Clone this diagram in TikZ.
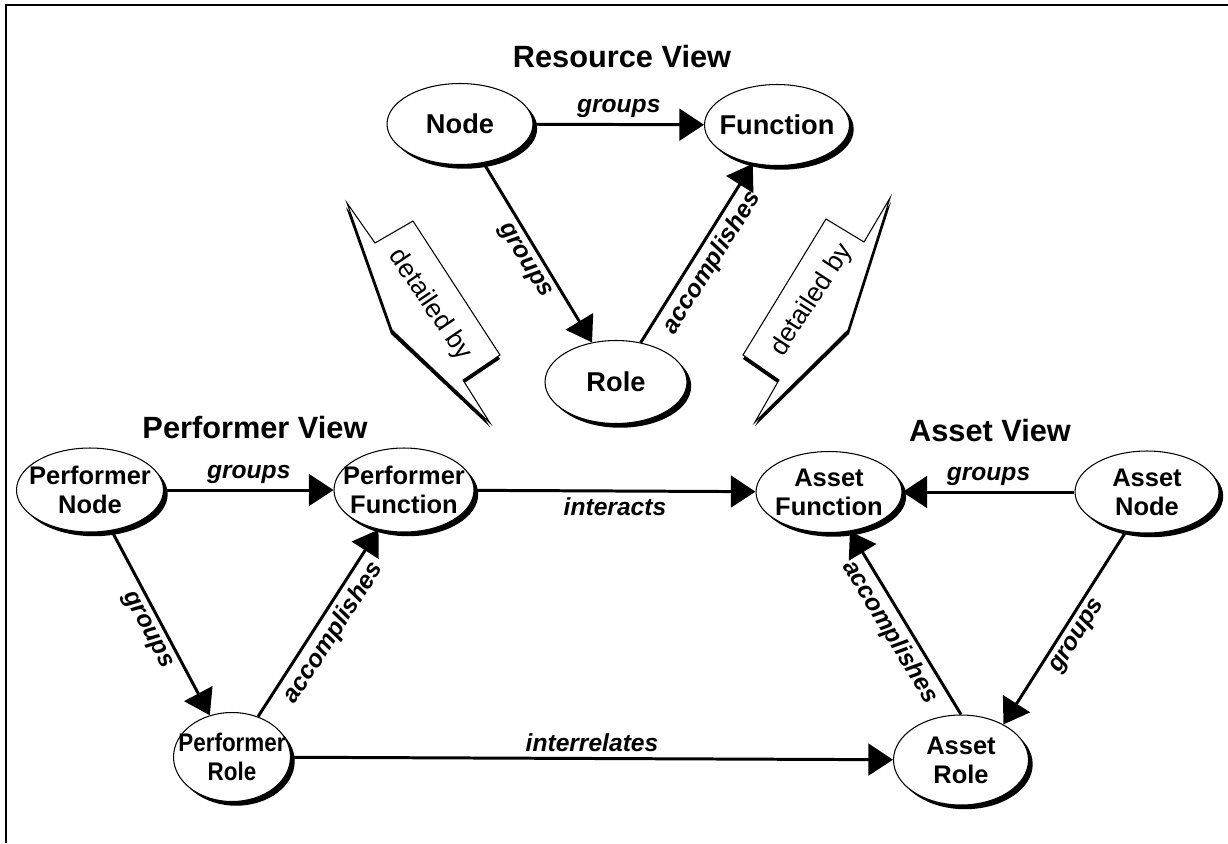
\documentclass[tikz,border=0pt]{standalone}
\usepackage{fontspec}
\setmainfont{Liberation Sans}
\usetikzlibrary{arrows.meta,shapes.geometric,shadows}
\begin{document}
\begin{tikzpicture}[x=0.02cm,y=-0.02cm,
  ent/.style={ellipse, draw, line width=0.6pt, fill=white, inner sep=0pt,
    general shadow={fill=black, shadow xshift=2.4pt, shadow yshift=-2.4pt}},
  entlabel/.style={align=center, font=\bfseries\fontsize{14.5}{16.5}\selectfont, inner sep=0pt},
  bigentlabel/.style={entlabel, font=\bfseries\fontsize{15.5}{17}\selectfont},
  viewtitle/.style={font=\bfseries\fontsize{17.5}{20}\selectfont},
  rel/.style={line width=1.7pt, -{Triangle[length=14pt,width=18pt]}},
  lab/.style={font=\bfseries\itshape\fontsize{14}{15}\selectfont, inner sep=3pt},
  callout/.style={draw, line width=0.6pt, fill=white, line join=miter},
  calloutshadow/.style={fill=black},
  callouttext/.style={font=\fontsize{15}{17}\selectfont, inner sep=0pt},
]
\useasboundingbox (0,0) rectangle (1228,843);
% frame
\draw[line width=1.2pt] (6,843) -- (6,5) -- (1228,5);

% titles
\node[viewtitle] (rtitle) at (622,57) {Resource View};
\node[viewtitle] (ptitle) at (255,427) {Performer View};
\node[viewtitle] (atitle) at (990,430) {Asset View};

% resource view
\node[ent, minimum width=2.92cm, minimum height=1.62cm, label={[bigentlabel]center:Node}] (rnode) at (460,124) {};
\node[ent, minimum width=2.90cm, minimum height=1.62cm, label={[bigentlabel]center:Function}] (rfunc) at (777,125) {};
\node[ent, minimum width=2.84cm, minimum height=1.66cm, label={[bigentlabel]center:Role}] (rrole) at (616,382) {};

% performer view
\node[ent, minimum width=2.94cm, minimum height=1.68cm, label={[entlabel]center:{Performer\\Node}}] (pnode) at (90,490) {};
\node[ent, minimum width=2.80cm, minimum height=1.68cm, label={[entlabel]center:{Performer\\Function}}] (pfunc) at (404,490) {};
\node[ent, minimum width=2.34cm, minimum height=1.78cm, label={[entlabel]center:{\scalebox{0.88}[1]{Performer}\\\scalebox{0.88}[1]{Role}}}] (prole) at (232,757) {};

% asset view
\node[ent, minimum width=2.92cm, minimum height=1.62cm, label={[entlabel]center:{Asset\\Function}}] (afunc) at (829,492) {};
\node[ent, minimum width=2.88cm, minimum height=1.64cm, label={[entlabel]center:{Asset\\Node}}] (anode) at (1147,492) {};
\node[ent, minimum width=2.70cm, minimum height=1.80cm, label={[entlabel]center:{Asset\\Role}}] (arole) at (961,760) {};

% resource relations
\draw[rel] (rnode) -- node[lab, above] {groups} (rfunc);
\draw[rel] (rnode) -- node[lab, sloped, below] {groups} (rrole);
\draw[rel] (rrole) -- node[lab, sloped, below] {accomplishes} (rfunc);

% performer relations
\draw[rel] (pnode) -- node[lab, above] {groups} (pfunc);
\draw[rel] (pnode) -- node[lab, sloped, below] {groups} (prole);
\draw[rel] (prole) -- node[lab, sloped, below] {accomplishes} (pfunc);

% asset relations
\draw[rel] (anode) -- node[lab, above] {groups} (afunc);
\draw[rel] (anode.-118) -- node[lab, sloped, below] {groups} (arole.40);
\draw[rel] (arole.north) -- node[lab, sloped, below] {accomplishes} (afunc.-62);

% cross relations
\draw[rel] (pfunc) -- node[lab, below] {interacts} (afunc);
\draw[rel] (prole) -- node[lab, above] {interrelates} (arole);

% left callout
\fill[calloutshadow] (346,207) -- (375,247) -- (413,225) -- (500,359) -- (463,384) -- (490,427) -- (391,334) -- cycle;
\draw[callout] (347,203) -- (375,243) -- (413,221) -- (500,355) -- (463,380) -- (490,423) -- (392,330) -- cycle;
\node[callouttext, rotate=-56] (ldet) at (430,305) {detailed by};

% right callout
\fill[calloutshadow] (891,202) -- (864,246) -- (826,223) -- (743,359) -- (779,384) -- (755,426) -- (849,334) -- cycle;
\draw[callout] (890,198) -- (864,242) -- (826,219) -- (743,355) -- (779,380) -- (755,422) -- (848,330) -- cycle;
\node[callouttext, rotate=57] (rdet) at (812,300) {detailed by};
\end{tikzpicture}
\end{document}
